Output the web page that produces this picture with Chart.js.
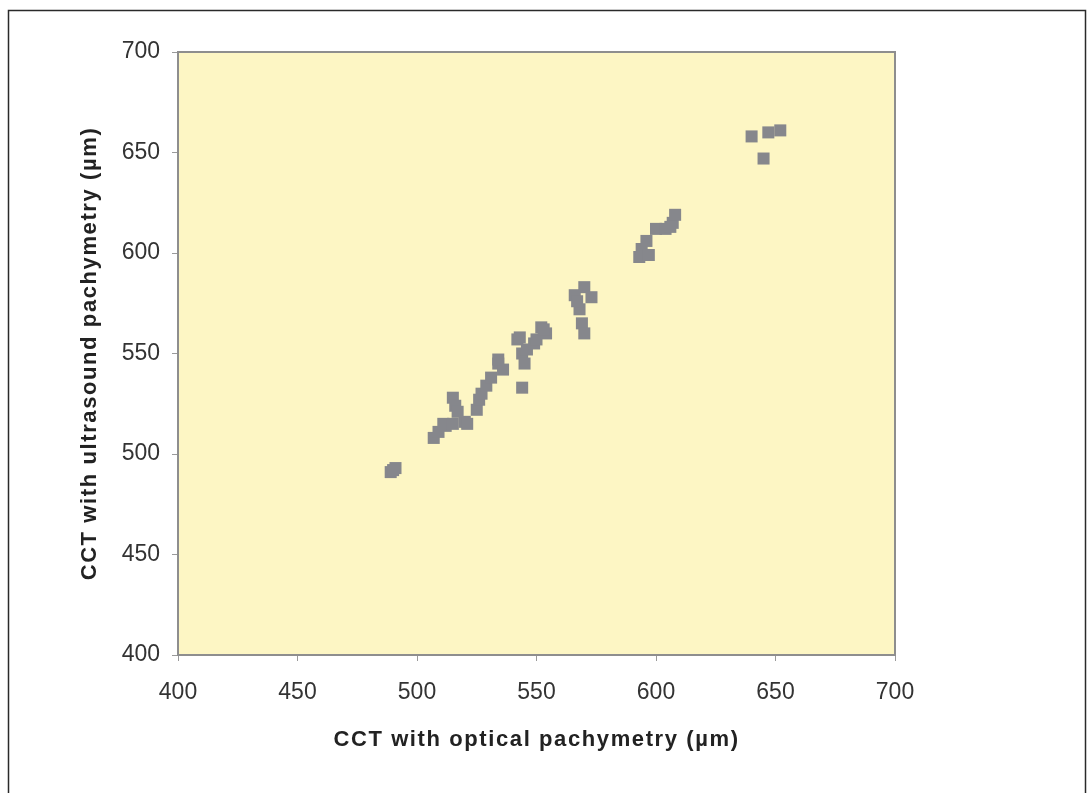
<!DOCTYPE html>
<html>
<head>
<meta charset="utf-8">
<script src="https://cdn.jsdelivr.net/npm/chart.js@4"></script>
<style>
  html, body { margin: 0; padding: 0; background: #fff; }
  #wrap { width: 1092px; height: 793px; position: relative; }
</style>
</head>
<body>
<div id="wrap"><canvas id="c" width="1092" height="793"></canvas></div>
<script>
const xTitle = "CCT with optical pachymetry (µm)";
const yTitle = "CCT with ultrasound pachymetry (µm)";
const axisMin = 400, axisMax = 700, axisStep = 50;

const opticalCCT = [
  489, 491, 490,
  507, 509, 512, 511, 515, 515, 516, 517, 520, 521,
  525, 526, 527, 529, 531, 534, 536, 534,
  542, 543, 544, 545, 546, 549, 550, 552, 554, 553, 544,
  570, 566, 573, 568, 569, 570, 567,
  593, 594, 597, 596, 600, 604, 607, 608, 606,
  640, 647, 652, 645
];
const ultrasoundCCT = [
  491, 493, 492,
  508, 511, 514, 515, 515, 528, 524, 521, 516, 515,
  522, 527, 530, 534, 538, 545, 542, 547,
  557, 558, 550, 545, 552, 555, 557, 563, 560, 562, 533,
  583, 579, 578, 572, 565, 560, 576,
  598, 602, 599, 606, 612, 612, 615, 619, 613,
  658, 660, 661, 647
];

const points = opticalCCT.map((x, i) => ({ x: x, y: ultrasoundCCT[i] }));

const FONT = "'Liberation Sans', Arial, sans-serif";
const TITLE_SPACING = '1.6px';

// tick labels are drawn without the extra letter spacing used for the titles
function plainLabels(scale) {
  if (scale._plainPatched) return;
  const orig = scale.drawLabels;
  scale.drawLabels = function (area) {
    const c = this.ctx;
    const prev = c.letterSpacing;
    c.letterSpacing = '0px';
    orig.call(this, area);
    c.letterSpacing = prev;
  };
  scale._plainPatched = true;
}

const framePlugin = {
  id: 'framePlugin',
  beforeUpdate(chart) {
    chart.ctx.letterSpacing = TITLE_SPACING;
  },
  beforeDraw(chart) {
    const ctx = chart.ctx;
    ctx.letterSpacing = TITLE_SPACING;
    const a = chart.chartArea;
    ctx.save();
    ctx.fillStyle = '#ffffff';
    ctx.fillRect(0, 0, chart.width, chart.height);
    ctx.strokeStyle = '#2a2a2a';
    ctx.lineWidth = 1.5;
    ctx.strokeRect(8.5, 10.5, 1077, 800);
    ctx.fillStyle = '#fdf6c4';
    ctx.fillRect(a.left, a.top, a.right - a.left, a.bottom - a.top);
    ctx.restore();
  },
  beforeDatasetsDraw(chart) {
    const ctx = chart.ctx;
    const a = chart.chartArea;
    ctx.save();
    ctx.strokeStyle = '#8e8e8e';
    ctx.lineWidth = 2;
    ctx.strokeRect(a.left, a.top, a.right - a.left, a.bottom - a.top);
    ctx.restore();
  }
};

new Chart(document.getElementById('c'), {
  type: 'scatter',
  data: {
    datasets: [{
      data: points,
      pointStyle: 'rect',
      pointRadius: 8.5,
      pointHoverRadius: 8.5,
      backgroundColor: '#86878c',
      borderColor: '#86878c',
      borderWidth: 0
    }]
  },
  options: {
    responsive: false,
    animation: false,
    events: [],
    layout: { padding: { left: 77, top: 52, right: 197, bottom: 40 } },
    plugins: { legend: { display: false }, tooltip: { enabled: false } },
    scales: {
      x: {
        type: 'linear',
        min: axisMin, max: axisMax,
        ticks: { stepSize: axisStep, color: '#333', font: { family: FONT, size: 23 }, padding: 18, maxRotation: 0 },
        grid: { drawOnChartArea: false, drawTicks: true, tickLength: 6, color: '#9a9a9a' },
        border: { display: false },
        title: { display: true, text: xTitle, color: '#222', font: { family: FONT, size: 22, weight: 'bold' }, padding: 0 },
        afterFit(scale) { scale.height = 98; plainLabels(scale); }
      },
      y: {
        type: 'linear',
        min: axisMin, max: axisMax,
        ticks: { stepSize: axisStep, color: '#333', font: { family: FONT, size: 23 }, padding: 12 },
        grid: { drawOnChartArea: false, drawTicks: true, tickLength: 6, color: '#9a9a9a' },
        border: { display: false },
        title: { display: true, text: yTitle, color: '#222', font: { family: FONT, size: 22, weight: 'bold' }, padding: 0 },
        afterFit(scale) { scale.width = 101; plainLabels(scale); }
      }
    }
  },
  plugins: [framePlugin]
});
</script>
</body>
</html>
